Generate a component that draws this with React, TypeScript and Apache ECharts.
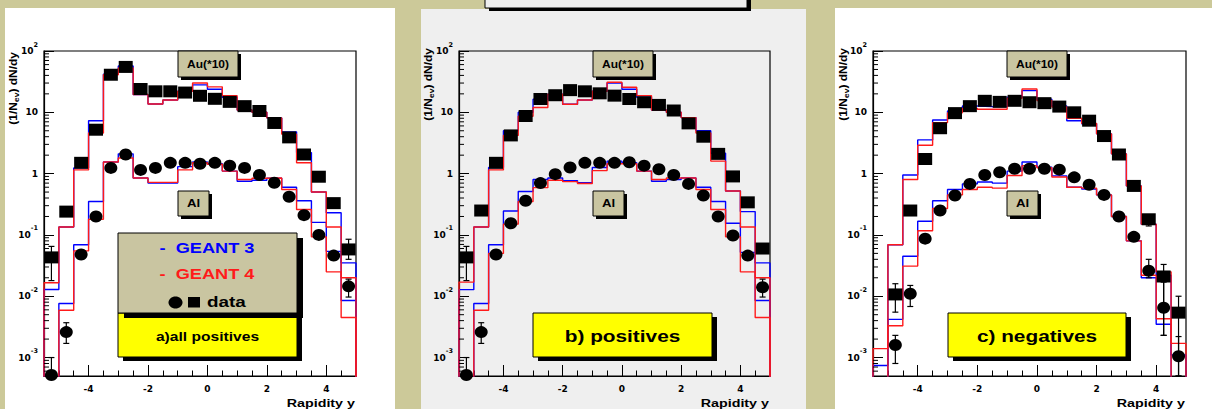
import React, { useEffect, useRef } from 'react';
import * as echarts from 'echarts';

// ---------- axes ----------
const BIN_EDGES = [-5.5, -5, -4.5, -4, -3.5, -3, -2.5, -2, -1.5, -1, -0.5, 0, 0.5, 1, 1.5, 2, 2.5, 3, 3.5, 4, 4.5, 5];
const BIN_CENTERS = [-5.25, -4.75, -4.25, -3.75, -3.25, -2.75, -2.25, -1.75, -1.25, -0.75, -0.25, 0.25, 0.75, 1.25, 1.75, 2.25, 2.75, 3.25, 3.75, 4.25, 4.75];
const X_TICKS = [-4, -2, 0, 2, 4];
const Y_MIN = 5e-4;
const Y_MAX = 100;
const Y_TICK_LABELS: Record<string, string> = {
  '2': '{b|10}{s|2}',
  '1': '{b|10}',
  '0': '{b|1}',
  '-1': '{b|10}{s|-1}',
  '-2': '{b|10}{s|-2}',
  '-3': '{b|10}{s|-3}',
};
const OFF = 1e-6; // below the visible range

// ---------- (a) all positives ----------
const AU_DATA_A = [0.043, 0.24, 1.5, 5.2, 41, 55, 24, 22, 22, 21, 18.6, 16.6, 14.8, 12.6, 10.5, 6.7, 3.9, 2.05, 0.89, 0.33, 0.058];
const AL_DATA_A = [0.00052, 0.0026, 0.048, 0.2, 1.24, 2.05, 1.15, 1.24, 1.5, 1.5, 1.45, 1.5, 1.35, 1.24, 0.95, 0.71, 0.42, 0.21, 0.1, 0.046, 0.0145];
const AU_G3_A = [0.0129, 0.135, 1.24, 7.3, 42, 57, 19.5, 13.7, 15.9, 22, 28, 23.8, 17.6, 10.9, 10, 8.1, 4.8, 2.2, 0.5, 0.23, 0.035];
const AU_G4_A = [0.0166, 0.135, 1.15, 4.6, 41, 53, 19.5, 13.7, 15.9, 22, 30, 26, 18.7, 10.9, 10, 8.1, 4.4, 1.5, 0.5, 0.135, 0.02];
const AL_G3_A = [OFF, 0.0076, 0.069, 0.35, 1.55, 2.1, 0.85, 0.7, 0.7, 1.3, 1.55, 1.45, 1.1, 0.75, 0.78, 0.84, 0.6, 0.36, 0.16, 0.054, 0.0085];
const AL_G4_A = [OFF, 0.0059, 0.055, 0.18, 1.55, 1.8, 0.85, 0.72, 0.72, 1.15, 1.5, 1.42, 1.1, 0.8, 0.84, 0.85, 0.55, 0.26, 0.093, 0.025, 0.0045];
const ERR_A = [[-5.25, 0.018, 0.065], [-5.25, 0.0005, 0.001], [-4.75, 0.0017, 0.0037], [4.75, 0.04, 0.085], [4.75, 0.0097, 0.019]];

// ---------- (b) positives ----------
const AU_DATA_B = [0.043, 0.25, 1.5, 4.2, 8.7, 16.5, 19, 23, 22, 20.4, 18.7, 16.5, 14.6, 13.2, 10.7, 6.6, 4.0, 2.1, 0.9, 0.34, 0.06];
const AL_DATA_B = [0.00052, 0.0026, 0.048, 0.155, 0.36, 0.7, 0.98, 1.26, 1.5, 1.5, 1.5, 1.53, 1.35, 1.18, 0.95, 0.68, 0.44, 0.2, 0.098, 0.046, 0.014];
const AU_G3_B = [0.0128, 0.135, 1.26, 5.0, 10, 16.3, 19.7, 13.5, 15.9, 22, 30, 23.8, 17.6, 10.9, 10, 8.2, 5.0, 2.15, 0.52, 0.24, 0.035];
const AU_G4_B = [0.017, 0.135, 1.15, 4.2, 8.6, 12, 19.7, 13.5, 15.9, 22, 31, 25.7, 18.7, 10.9, 10, 8.2, 4.6, 1.6, 0.52, 0.135, 0.02];
const AL_G3_B = [OFF, 0.0076, 0.069, 0.245, 0.51, 0.8, 0.85, 0.77, 0.71, 1.26, 1.6, 1.5, 1.1, 0.75, 0.8, 0.85, 0.6, 0.35, 0.155, 0.052, 0.0085];
const AL_G4_B = [OFF, 0.0059, 0.05, 0.15, 0.35, 0.59, 0.78, 0.74, 0.69, 1.12, 1.45, 1.45, 1.1, 0.8, 0.85, 0.85, 0.55, 0.26, 0.093, 0.025, 0.0045];
const ERR_B = [[-5.25, 0.018, 0.065], [-5.25, 0.0005, 0.001], [-4.75, 0.0017, 0.0037], [4.75, 0.0097, 0.019]];

// ---------- (c) negatives ----------
const AU_DATA_C = [null, 0.0107, 0.25, 1.73, 5.5, 9.7, 12.6, 15.4, 14.8, 15.4, 14.6, 14.1, 12.4, 10, 7.3, 4.1, 2.05, 0.63, 0.18, 0.021, 0.0054];
const AL_DATA_C = [null, 0.0016, 0.011, 0.087, 0.25, 0.44, 0.68, 0.95, 1.05, 1.2, 1.2, 1.2, 1.16, 0.87, 0.66, 0.45, 0.2, 0.093, 0.026, 0.0065, 0.00105];
const AU_G3_C = [0.00074, 0.069, 0.95, 3.55, 7.5, 10.5, 12.7, 12.4, 12.4, 17.6, 22.6, 16.3, 12.7, 7.3, 6.5, 4.45, 2.1, 0.63, 0.15, 0.022, 0.0011];
const AU_G4_C = [0.0014, 0.069, 0.8, 2.9, 6.8, 9.8, 11.6, 11.2, 11.2, 17, 24, 15.6, 12.2, 8, 6.6, 4.45, 2.1, 0.63, 0.15, 0.025, 0.0017];
const AL_G3_C = [OFF, 0.0042, 0.045, 0.167, 0.36, 0.55, 0.68, 0.73, 0.7, 1.1, 1.55, 1.27, 0.92, 0.6, 0.56, 0.45, 0.2, 0.08, 0.02, 0.0035, OFF];
const AL_G4_C = [OFF, 0.0033, 0.031, 0.117, 0.27, 0.45, 0.55, 0.6, 0.58, 0.93, 1.35, 1.25, 0.88, 0.6, 0.58, 0.45, 0.2, 0.08, 0.022, 0.0043, OFF];
const ERR_C = [[-4.75, 0.0055, 0.016], [-4.75, 0.0008, 0.0023], [-4.25, 0.0068, 0.015], [3.75, 0.14, 0.2], [3.75, 0.02, 0.04], [4.25, 0.0023, 0.033], [4.25, 0.0023, 0.017], [4.75, 0.0005, 0.01], [4.75, 0.0005, 0.0022]];

const PANEL_LABELS = ['a)all positives', 'b) positives', 'c) negatives'];
const AU_LABEL = 'Au(*10)';
const AL_LABEL = 'Al';
const LEGEND_G3 = '-  GEANT 3';
const LEGEND_G4 = '-  GEANT 4';
const LEGEND_DATA = 'data';
const Y_TITLE = '(1/N{sub|ev}) dN/dy';
const X_TITLE = 'Rapidity y';

// ---------- layout ----------
const BG = '#ccc999';
const BOX = '#c9c5a1';
const BLUE = '#0000ff';
const RED = '#ff1a1a';
const TXT_FONT = 'Liberation Sans';
const AXIS_FONT = 'DejaVu Sans';

const PANEL_BG = [
  { x: 5, y: 8, w: 390, h: 410, fill: '#ffffff' },
  { x: 421, y: 9, w: 385, h: 410, fill: '#efefef' },
  { x: 835, y: 8, w: 390, h: 410, fill: '#ffffff' },
];
const GRIDS = [
  { left: 44, top: 51, width: 312, height: 325 },
  { left: 459, top: 51, width: 311, height: 325 },
  { left: 873, top: 51, width: 313, height: 325 },
];
const AU_BOX_X = [178, 593, 1007];
const YELLOW_BOX = [
  { x: 118, w: 179, size: 12 },
  { x: 533, w: 179, size: 16 },
  { x: 948, w: 178, size: 16 },
];
const YTITLE_POS = [{ x: 13, y: 52 }, { x: 428, y: 48 }, { x: 843, y: 48 }];

const PANELS = [
  { au: AU_DATA_A, al: AL_DATA_A, auG3: AU_G3_A, auG4: AU_G4_A, alG3: AL_G3_A, alG4: AL_G4_A, err: ERR_A },
  { au: AU_DATA_B, al: AL_DATA_B, auG3: AU_G3_B, auG4: AU_G4_B, alG3: AL_G3_B, alG4: AL_G4_B, err: ERR_B },
  { au: AU_DATA_C, al: AL_DATA_C, auG3: AU_G3_C, auG4: AU_G4_C, alG3: AL_G3_C, alG4: AL_G4_C, err: ERR_C },
];

function stepData(vals: number[]) {
  const last = BIN_EDGES[BIN_EDGES.length - 1];
  const pts: number[][] = [[BIN_EDGES[0], OFF]];
  vals.forEach((v, i) => pts.push([BIN_EDGES[i], v]));
  pts.push([last, vals[vals.length - 1]]);
  pts.push([last, OFF]);
  return pts;
}

function minorYTicks() {
  const out: number[] = [];
  for (let e = -4; e <= 1; e++) {
    for (let k = 2; k <= 9; k++) {
      const v = k * Math.pow(10, e);
      if (v > Y_MIN * 1.01 && v < Y_MAX) out.push(v);
    }
  }
  return out;
}

function txt(text: string, x: number, y: number, o: any = {}) {
  const align = o.align || 'center';
  return {
    type: 'text',
    x,
    y,
    scaleX: o.sx || 1,
    rotation: o.rot || 0,
    z: o.z || 60,
    silent: true,
    style: {
      text,
      fill: o.fill || '#000',
      fontSize: o.size || 10,
      fontWeight: 'bold',
      fontFamily: o.family || TXT_FONT,
      align,
      verticalAlign: 'middle',
      textAlign: align,
      textVerticalAlign: 'middle',
      lineHeight: o.lh,
      rich: o.rich,
    },
  };
}

function boxWithShadow(x: number, y: number, w: number, h: number, fill: string, dx: number, dy: number, z: number) {
  return [
    { type: 'rect', z, silent: true, shape: { x: x + dx, y: y + dy, width: w, height: h }, style: { fill: '#000' } },
    { type: 'rect', z: z + 1, silent: true, shape: { x, y, width: w, height: h }, style: { fill, stroke: '#000', lineWidth: 1 } },
  ];
}

export default function App() {
  const ref = useRef<HTMLDivElement>(null);

  useEffect(() => {
    if (!ref.current) return;
    const chart = echarts.init(ref.current, undefined, { renderer: 'svg' });
    const minorY = minorYTicks();

    const grid: any[] = [];
    const xAxis: any[] = [];
    const yAxis: any[] = [];
    const series: any[] = [];
    const graphic: any[] = [];

    PANEL_BG.forEach((r) =>
      graphic.push({ type: 'rect', z: -10, silent: true, shape: { x: r.x, y: r.y, width: r.w, height: r.h }, style: { fill: r.fill } })
    );
    // top title box (cut off)
    graphic.push(...boxWithShadow(485, -6, 262, 14, '#eeeeee', 4, 3, 40));

    PANELS.forEach((p, i) => {
      const g = GRIDS[i];
      grid.push({
        ...g,
        show: true,
        borderColor: '#000',
        borderWidth: 1.2,
        backgroundColor: 'transparent',
        containLabel: false,
        outerBoundsMode: 'none',
      });
      xAxis.push({
        type: 'value',
        gridIndex: i,
        min: -5.5,
        max: 5,
        position: 'bottom',
        axisLine: { show: true, onZero: false, lineStyle: { color: '#000', width: 1.2 } },
        axisTick: { show: true, inside: true, length: 11, customValues: X_TICKS, lineStyle: { color: '#000', width: 1 } },
        axisLabel: {
          customValues: X_TICKS,
          margin: 8,
          color: '#000',
          fontFamily: AXIS_FONT,
          fontWeight: 'bold',
          fontSize: 9,
        },
        splitLine: { show: false },
      });
      xAxis.push({
        type: 'value',
        gridIndex: i,
        min: -5.5,
        max: 5,
        interval: 0.5,
        position: 'bottom',
        axisLine: { show: false, onZero: false },
        axisTick: { show: true, inside: true, length: 5.5, lineStyle: { color: '#000', width: 1 } },
        axisLabel: { show: false },
        splitLine: { show: false },
      });
      yAxis.push({
        type: 'log',
        logBase: 10,
        gridIndex: i,
        min: Y_MIN,
        max: Y_MAX,
        axisLine: { show: true, onZero: false, lineStyle: { color: '#000', width: 1.2 } },
        axisTick: { show: true, inside: true, length: 10, lineStyle: { color: '#000', width: 1 } },
        splitLine: { show: false },
        minorTick: { show: false },
        axisLabel: {
          margin: 6,
          showMinLabel: false,
          showMaxLabel: true,
          formatter: (v: number) => {
            const l = Math.log10(v);
            const e = Math.round(l);
            if (Math.abs(l - e) > 0.01) return '';
            return Y_TICK_LABELS[String(e)] || '';
          },
          rich: {
            b: { fontFamily: AXIS_FONT, fontWeight: 'bold', fontSize: 9, lineHeight: 20, color: '#000' },
            s: { fontFamily: AXIS_FONT, fontWeight: 'bold', fontSize: 6.5, lineHeight: 8, verticalAlign: 'top', color: '#000' },
          },
        },
      });

      const xi = 2 * i;
      const line = (vals: number[], color: string) => ({
        type: 'line',
        xAxisIndex: xi,
        yAxisIndex: i,
        step: 'end',
        symbol: 'none',
        showSymbol: false,
        clip: true,
        silent: true,
        z: 3,
        lineStyle: { color, width: 1.4, opacity: 1 },
        data: stepData(vals),
      });
      series.push(line(p.auG3, BLUE), line(p.alG3, BLUE), line(p.auG4, RED), line(p.alG4, RED));

      // minor log ticks on the y axis
      series.push({
        type: 'custom',
        xAxisIndex: xi,
        yAxisIndex: i,
        silent: true,
        z: 4,
        encode: { x: 0, y: 1 },
        data: minorY.map((v) => [-5.5, v]),
        renderItem: (_params: any, api: any) => {
          const pt = api.coord([api.value(0), api.value(1)]);
          return {
            type: 'line',
            shape: { x1: pt[0], y1: pt[1], x2: pt[0] + 5, y2: pt[1] },
            style: { stroke: '#000', lineWidth: 1 },
          };
        },
      });

      // error bars
      series.push({
        type: 'custom',
        xAxisIndex: xi,
        yAxisIndex: i,
        silent: true,
        z: 5,
        encode: { x: 0, y: [1, 2] },
        data: p.err,
        renderItem: (_params: any, api: any) => {
          const x = api.value(0);
          const a = api.coord([x, api.value(1)]);
          const b = api.coord([x, api.value(2)]);
          const st = { stroke: '#000', lineWidth: 1.2 };
          return {
            type: 'group',
            children: [
              { type: 'line', shape: { x1: a[0], y1: a[1], x2: b[0], y2: b[1] }, style: st },
              { type: 'line', shape: { x1: a[0] - 3, y1: a[1], x2: a[0] + 3, y2: a[1] }, style: st },
              { type: 'line', shape: { x1: b[0] - 3, y1: b[1], x2: b[0] + 3, y2: b[1] }, style: st },
            ],
          };
        },
      });

      const pts = (vals: (number | null)[]) =>
        BIN_CENTERS.map((c, j) => [c, vals[j]]).filter((d) => d[1] !== null && d[1] !== undefined);
      series.push({
        type: 'scatter',
        xAxisIndex: xi,
        yAxisIndex: i,
        symbol: 'rect',
        symbolSize: [14, 12],
        itemStyle: { color: '#000', opacity: 1 },
        silent: true,
        z: 6,
        data: pts(p.au),
      });
      series.push({
        type: 'scatter',
        xAxisIndex: xi,
        yAxisIndex: i,
        symbol: 'circle',
        symbolSize: [13, 12],
        itemStyle: { color: '#000', opacity: 1 },
        silent: true,
        z: 6,
        data: pts(p.al),
      });

      // boxes inside the frame
      const ax = AU_BOX_X[i];
      graphic.push(...boxWithShadow(ax, 51, 60, 26, BOX, 3, 3, 50));
      graphic.push(txt(AU_LABEL, ax + 30, 64.5, { size: 10, sx: 1.2 }));
      graphic.push(...boxWithShadow(ax, 191, 31, 25, BOX, 3, 3, 50));
      graphic.push(txt(AL_LABEL, ax + 15.5, 203.5, { size: 11, sx: 1.2 }));

      const yb = YELLOW_BOX[i];
      graphic.push(...boxWithShadow(yb.x, 313, yb.w, 44, '#ffff00', 5, 4, 50));
      graphic.push(txt(PANEL_LABELS[i], yb.x + yb.w / 2, 336.5, { size: yb.size, sx: 1.3 }));

      // axis titles
      graphic.push(txt(X_TITLE, g.left + g.width - 1, 403, { size: 11, sx: 1.3, align: 'right' }));
      const yt = YTITLE_POS[i];
      graphic.push(
        txt(Y_TITLE, yt.x, yt.y, {
          size: 10,
          sx: 1.2,
          rot: Math.PI / 2,
          align: 'right',
          lh: 14,
          rich: { sub: { fontSize: 7, fontWeight: 'bold', fontFamily: TXT_FONT, lineHeight: 8, verticalAlign: 'bottom' } },
        })
      );
    });

    // legend box (panel a)
    graphic.push(...boxWithShadow(118, 233, 179, 80, BOX, 6, 5, 54));
    graphic.push(txt(LEGEND_G3, 207, 247.5, { size: 14, sx: 1.3, fill: BLUE, z: 62 }));
    graphic.push(txt(LEGEND_G4, 207, 274, { size: 14, sx: 1.3, fill: RED, z: 62 }));
    graphic.push({ type: 'ellipse', z: 62, silent: true, shape: { cx: 175.5, cy: 302.5, rx: 7, ry: 6 }, style: { fill: '#000' } });
    graphic.push({ type: 'rect', z: 62, silent: true, shape: { x: 188, y: 297, width: 12, height: 10.5 }, style: { fill: '#000' } });
    graphic.push(txt(LEGEND_DATA, 207, 302, { size: 14, sx: 1.35, align: 'left', z: 62 }));

    chart.setOption({
      animation: false,
      backgroundColor: BG,
      textStyle: { fontFamily: TXT_FONT },
      grid,
      xAxis,
      yAxis,
      series,
      graphic: { elements: graphic },
    });

    return () => chart.dispose();
  }, []);

  return <div ref={ref} style={{ position: 'absolute', left: 0, top: 0, width: 1212, height: 409 }} />;
}
